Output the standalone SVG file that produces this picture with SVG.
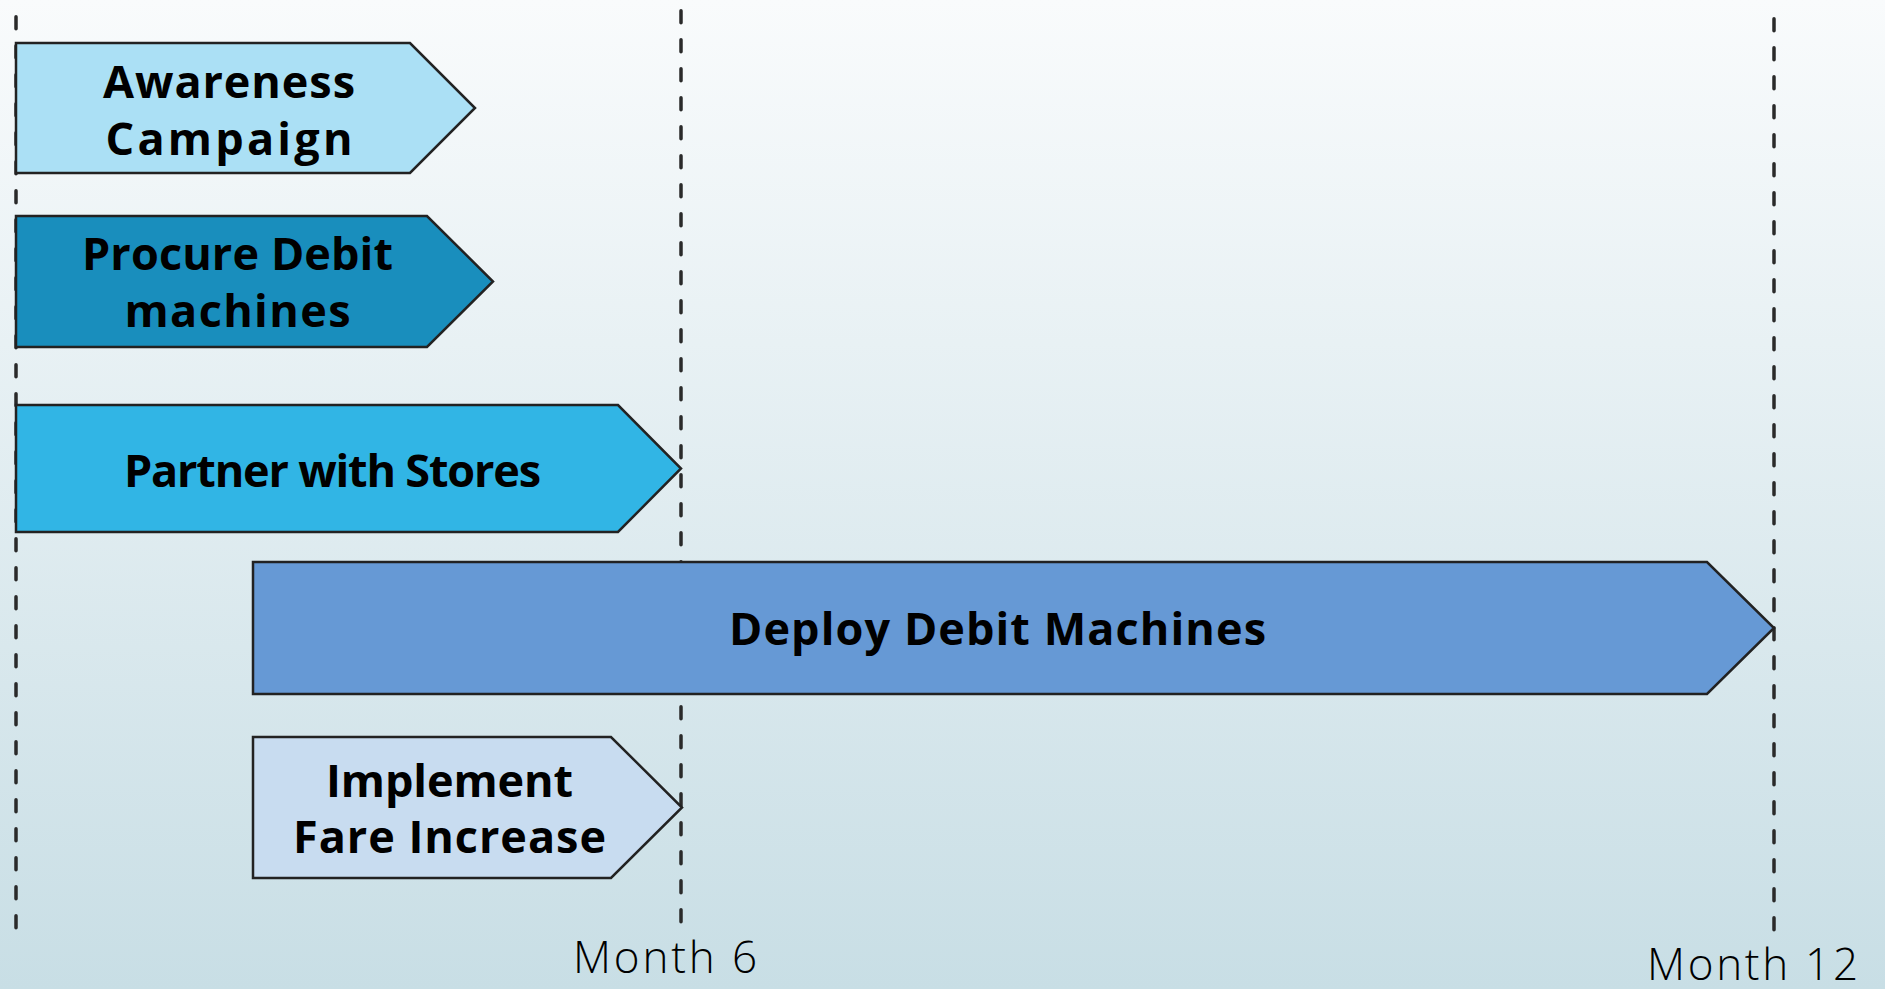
<svg xmlns="http://www.w3.org/2000/svg" width="1885" height="989" viewBox="0 0 1885 989">
  <defs>
    <linearGradient id="bg" x1="0" y1="0" x2="0" y2="1">
      <stop offset="0" stop-color="#f9fbfc"/>
      <stop offset="1" stop-color="#c8dee5"/>
    </linearGradient>
    <style>
      .bar { stroke: #222222; stroke-width: 2.5; stroke-linejoin: miter; }
      .lbl { font-family: "Open Sans", Lato, "Liberation Sans", sans-serif; font-weight: 700; font-size: 45px; fill: #000000; text-anchor: middle; }
      .month { font-family: "Open Sans", Lato, "Liberation Sans", sans-serif; font-weight: 300; font-size: 44px; fill: #000000; }
      .guide { stroke: #2a2a2a; stroke-width: 3.5; stroke-linecap: round; stroke-dasharray: 12 17; fill: none; }
    </style>
  </defs>

  <rect x="0" y="0" width="1885" height="989" fill="url(#bg)"/>

  <!-- milestone guides -->
  <g id="connectors">
    <line class="guide" x1="16" y1="16.75" x2="16" y2="933"/>
    <line class="guide" x1="681" y1="10.75" x2="681" y2="927"/>
    <line class="guide" x1="1774" y1="18.75" x2="1774" y2="935"/>
  </g>

  <g id="awareness">
    <path class="bar" fill="#abe0f5" d="M16,43 H410 L475,108 L410,173 H16 Z"/>
    <text class="lbl" x="229" y="98" textLength="252">Awareness</text>
    <text class="lbl" x="229" y="155" textLength="247">Campaign</text>
  </g>

  <g id="procure">
    <path class="bar" fill="#198ebd" d="M16,216 H427 L493,281.5 L427,347 H16 Z"/>
    <text class="lbl" x="237.5" y="270" textLength="311">Procure Debit</text>
    <text class="lbl" x="237.5" y="327" textLength="226">machines</text>
  </g>

  <g id="partner">
    <path class="bar" fill="#31b5e5" d="M16,405 H618 L681,468.5 L618,532 H16 Z"/>
    <text class="lbl" x="332.5" y="487" textLength="417">Partner with Stores</text>
  </g>

  <g id="deploy">
    <path class="bar" fill="#6699d5" d="M253,562 H1707 L1774,628 L1707,694 H253 Z"/>
    <text class="lbl" x="997.5" y="645" textLength="537">Deploy Debit Machines</text>
  </g>

  <g id="fare">
    <path class="bar" fill="#c8dcf0" d="M253,737 H611 L682,807.5 L611,878 H253 Z"/>
    <text class="lbl" x="449.5" y="797" textLength="247">Implement</text>
    <text class="lbl" x="449.5" y="853" textLength="313">Fare Increase</text>
  </g>

  <g id="month6">
    <text class="month" x="573" y="973" textLength="184">Month 6</text>
  </g>
  <g id="month12">
    <text class="month" x="1647" y="980" textLength="211">Month 12</text>
  </g>
</svg>
